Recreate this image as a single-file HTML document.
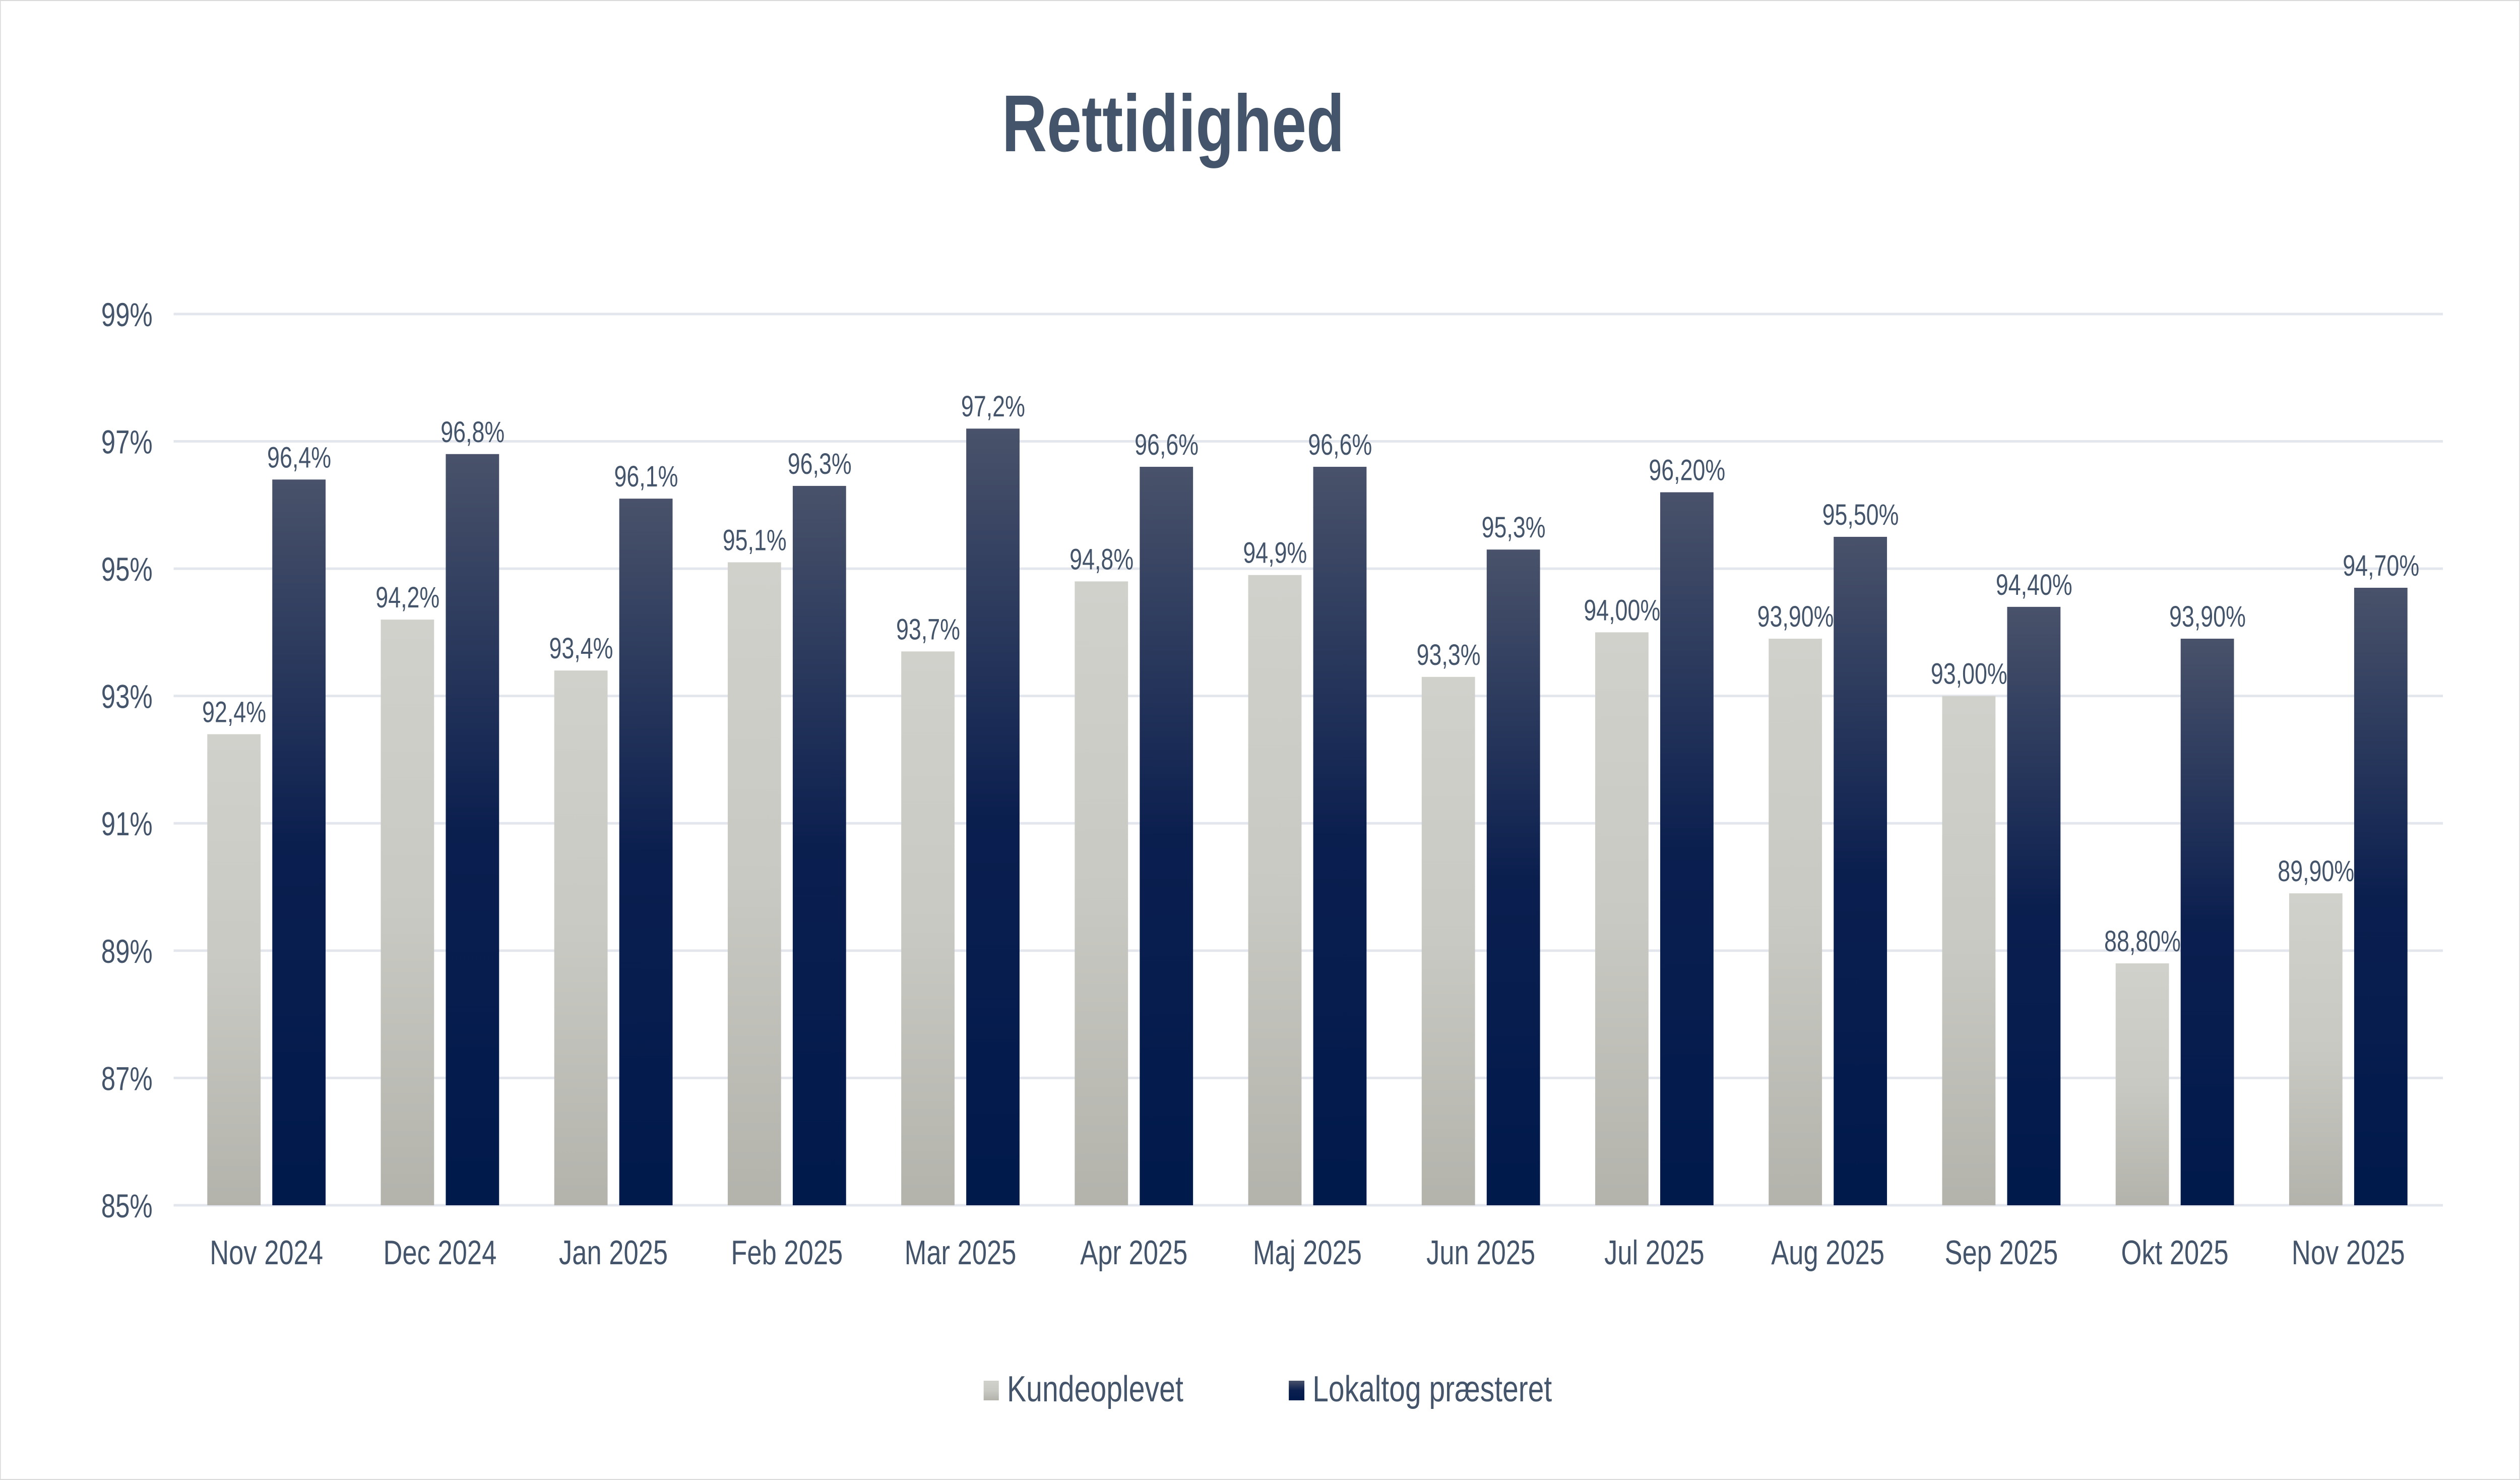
<!DOCTYPE html>
<html><head><meta charset="utf-8"><style>
html,body{margin:0;padding:0;background:#fff;overflow:hidden;width:100%;height:100%;}
svg{display:block;width:100vw;height:100vh;}
text{font-family:"Liberation Sans",sans-serif;fill:#44546a;}
</style></head><body>
<svg viewBox="0 0 6474 2936" preserveAspectRatio="none" xmlns="http://www.w3.org/2000/svg">
<defs>
<linearGradient id="gb" x1="0" y1="0" x2="0" y2="1"><stop offset="0" stop-color="#49526a"/><stop offset="0.5" stop-color="#0b1f4f"/><stop offset="1" stop-color="#001a4c"/></linearGradient>
<linearGradient id="gg" x1="0" y1="0" x2="0" y2="1"><stop offset="0" stop-color="#d1d1cc"/><stop offset="0.5" stop-color="#c9c9c3"/><stop offset="1" stop-color="#b3b3ac"/></linearGradient>
</defs>
<rect x="0.5" y="0.5" width="6473" height="2935" fill="#fff" stroke="#d9d9d9" stroke-width="3"/>
<text x="3014" y="300" font-size="160" font-weight="bold" text-anchor="middle">Rettidighed</text>
<g id="grid" stroke="#e3e6ec" stroke-width="5"></g>
<g id="yl" font-size="66" text-anchor="end"></g>
<g id="bars"></g>
<g font-size="72">
<rect x="2527" y="2739" width="39" height="39" fill="url(#gg)"/>
<text x="2587" y="2780" textLength="453" lengthAdjust="spacingAndGlyphs">Kundeoplevet</text>
<rect x="3311" y="2739" width="40" height="39" fill="url(#gb)"/>
<text x="3372" y="2780" textLength="615" lengthAdjust="spacingAndGlyphs">Lokaltog præsteret</text>
</g>
<script>
var ns="http://www.w3.org/2000/svg";
function Y(v){return 2391-(v-85)*126.29;}
function el(t,a,p,txt){var e=document.createElementNS(ns,t);for(var k in a)e.setAttribute(k,a[k]);if(txt!=null)e.textContent=txt;document.getElementById(p).appendChild(e);return e;}
for(var v=85;v<=99;v+=2){var y=Y(v);el('line',{x1:446,x2:6276,y1:y,y2:y},'grid');el('text',{x:392,y:y+24},'yl',v+'%');}
var m=["Nov 2024","Dec 2024","Jan 2025","Feb 2025","Mar 2025","Apr 2025","Maj 2025","Jun 2025","Jul 2025","Aug 2025","Sep 2025","Okt 2025","Nov 2025"];
var g=[92.4,94.2,93.4,95.1,93.7,94.8,94.9,93.3,94.0,93.9,93.0,88.8,89.9];
var b=[96.4,96.8,96.1,96.3,97.2,96.6,96.6,95.3,96.2,95.5,94.4,93.9,94.7];
var gl=["92,4%","94,2%","93,4%","95,1%","93,7%","94,8%","94,9%","93,3%","94,00%","93,90%","93,00%","88,80%","89,90%"];
var bl=["96,4%","96,8%","96,1%","96,3%","97,2%","96,6%","96,6%","95,3%","96,20%","95,50%","94,40%","93,90%","94,70%"];
for(var i=0;i<13;i++){var c=684.5+i*445.7;
var yg=Y(g[i]),yb=Y(b[i]);
el('rect',{x:c-152,y:yg,width:137,height:2391-yg,fill:'url(#gg)'},'bars');
el('rect',{x:c+15,y:yb,width:137,height:2391-yb,fill:'url(#gb)'},'bars');
el('text',{x:c-83,y:yg-24,'font-size':58,'text-anchor':'middle'},'bars',gl[i]);
el('text',{x:c+84,y:yb-24,'font-size':58,'text-anchor':'middle'},'bars',bl[i]);
el('text',{x:c,y:2508,'font-size':68,'text-anchor':'middle'},'bars',m[i]);}
</script>
</svg>
</body></html>
